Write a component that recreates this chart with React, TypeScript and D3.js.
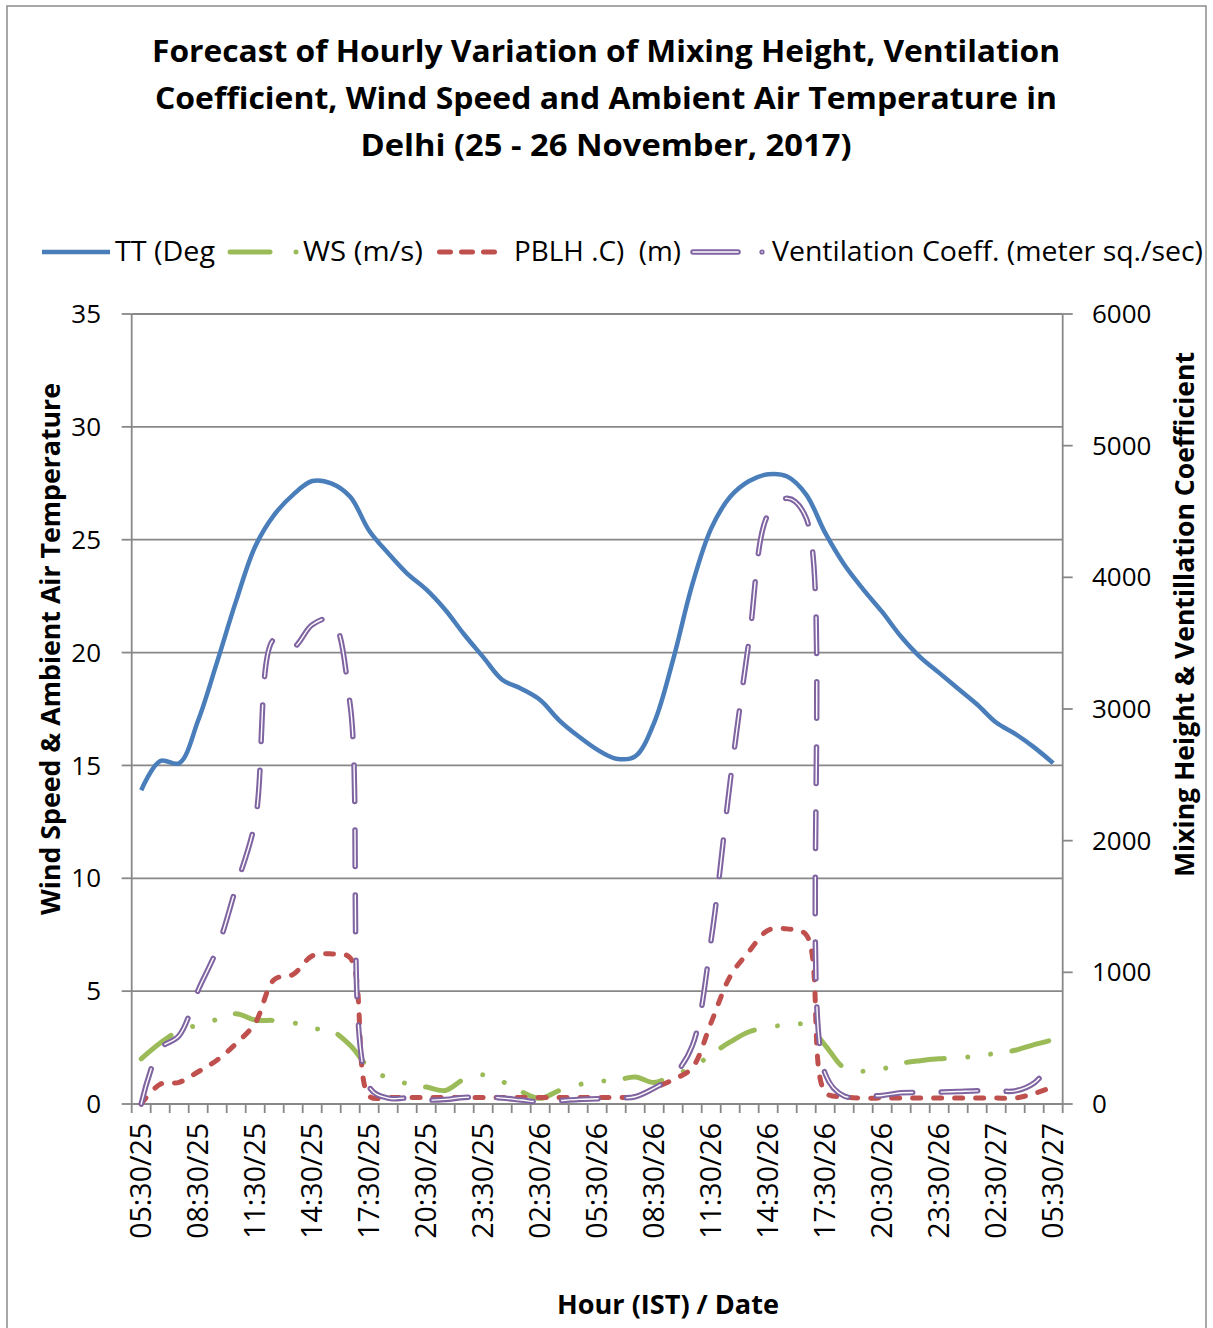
import React from 'react';
import * as d3 from 'd3';

const HOURS = [
  '05:30/25','06:30/25','07:30/25','08:30/25','09:30/25','10:30/25','11:30/25','12:30/25',
  '13:30/25','14:30/25','15:30/25','16:30/25','17:30/25','18:30/25','19:30/25','20:30/25',
  '21:30/25','22:30/25','23:30/25','00:30/26','01:30/26','02:30/26','03:30/26','04:30/26',
  '05:30/26','06:30/26','07:30/26','08:30/26','09:30/26','10:30/26','11:30/26','12:30/26',
  '13:30/26','14:30/26','15:30/26','16:30/26','17:30/26','18:30/26','19:30/26','20:30/26',
  '21:30/26','22:30/26','23:30/26','00:30/27','01:30/27','02:30/27','03:30/27','04:30/27',
  '05:30/27'
];
const LABELLED = [
  '05:30/25','08:30/25','11:30/25','14:30/25','17:30/25','20:30/25','23:30/25','02:30/26',
  '05:30/26','08:30/26','11:30/26','14:30/26','17:30/26','20:30/26','23:30/26','02:30/27','05:30/27'
];

// TT (deg C) - left axis
const TT = [13.9, 15.2, 15.1, 17.0, 19.6, 22.3, 24.7, 26.1, 27.0, 27.6, 27.5, 26.9, 25.4,
  24.4, 23.5, 22.8, 21.9, 20.8, 19.8, 18.8, 18.4, 17.9, 17.0, 16.3, 15.7, 15.3, 15.4,
  16.9, 19.7, 23.0, 25.5, 26.9, 27.6, 27.9, 27.8, 27.0, 25.3, 23.9, 22.8, 21.8, 20.7,
  19.8, 19.1, 18.4, 17.7, 16.9, 16.4, 15.8, 15.1];
// WS (m/s) - left axis
const WS = [2.0, 2.7, 3.25, 3.5, 3.75, 4.0, 3.72, 3.7, 3.6, 3.35, 3.25, 2.6, 1.6, 1.15,
  0.9, 0.75, 0.6, 1.1, 1.3, 1.0, 0.55, 0.25, 0.6, 0.85, 1.0, 1.05, 1.2, 0.95, 1.3, 1.6,
  2.2, 2.75, 3.2, 3.4, 3.5, 3.5, 2.6, 1.6, 1.45, 1.55, 1.8, 1.92, 2.0, 2.05, 2.12, 2.25,
  2.38, 2.63, 2.85];
// PBLH (m) - right axis
const PBLH = [0, 150, 165, 245, 335, 460, 615, 945, 985, 1125, 1140, 1110, 60, 50, 50,
  50, 50, 50, 50, 50, 50, 50, 50, 50, 50, 50, 55, 120, 185, 275, 620, 970, 1160, 1320,
  1330, 1285, 90, 55, 45, 45, 45, 45, 45, 45, 45, 45, 45, 80, 130];
// Ventilation coefficient (m2/s) - right axis
const VC = [0, 420, 520, 866, 1180, 1650, 2150, 3530, 3470, 3640, 3680, 3030, 130, 45,
  45, 30, 35, 50, 55, 45, 30, 15, 25, 35, 40, 45, 55, 120, 215, 440, 1250, 2450, 3530,
  4480, 4600, 4450, 230, 60, 60, 65, 85, 88, 90, 95, 100, 100, 100, 160, 330];

const LEFT_TICKS = [0, 5, 10, 15, 20, 25, 30, 35];
const RIGHT_TICKS = [0, 1000, 2000, 3000, 4000, 5000, 6000];

const TITLE = [
  'Forecast of Hourly Variation of Mixing Height, Ventilation',
  'Coefficient, Wind Speed and Ambient Air Temperature in',
  'Delhi (25 - 26 November, 2017)'
];

const FONT = "'Open Sans', 'Noto Sans', sans-serif";
const GRID = '#888888';
const C_TT = '#4a7ebb';
const C_WS = '#9bbb59';
const C_PB = '#c0504d';
const C_VC = '#8064a2';

export default function App() {
  const W = 1213, H = 1328;
  const left = 131.7, right = 1062.7, top = 314, bottom = 1104;
  const x = d3.scaleBand<string>().domain(HOURS).range([left, right]).padding(0);
  const bw = x.bandwidth();
  const xc = (i: number) => (x(HOURS[i]) as number) + bw / 2;
  const yL = d3.scaleLinear().domain([0, 35]).range([bottom, top]);
  const yR = d3.scaleLinear().domain([0, 6000]).range([bottom, top]);
  const curve = d3.curveCatmullRom.alpha(0.5);
  const lineL = d3.line<number>().x((_, i) => xc(i)).y(d => yL(d)).curve(curve);
  const lineR = d3.line<number>().x((_, i) => xc(i)).y(d => yR(d)).curve(curve);

  const boundaries = d3.range(HOURS.length + 1).map(k => left + k * bw);

  const titleWidths = [908, 902, 491];
  const titleBase = [62, 109, 156];

  const vcDash = '36.5 28.5';

  return (
    <svg width={W} height={H} style={{ position: 'absolute', left: 0, top: 0, background: '#fff' }}
      fontFamily={FONT}>
      <rect x={0} y={0} width={W} height={H} fill="#fff" />
      <rect x={7} y={6} width={1199} height={1340} fill="none" stroke="#8c8c8c" strokeWidth={1.5} />

      {TITLE.map((t, i) => (
        <text key={i} x={606} y={titleBase[i]} textAnchor="middle" fontSize={29.5} fontWeight="bold"
          textLength={titleWidths[i]} lengthAdjust="spacingAndGlyphs" fill="#000">{t}</text>
      ))}

      {/* legend */}
      <g>
        <line x1={42} x2={110} y1={252} y2={252} stroke={C_TT} strokeWidth={4.5} />
        <text x={115} y={261} fontSize={26.5} textLength={100} lengthAdjust="spacingAndGlyphs">TT (Deg</text>
        <line x1={230} x2={270} y1={252} y2={252} stroke={C_WS} strokeWidth={5} strokeLinecap="round" />
        <circle cx={296} cy={252} r={2.5} fill={C_WS} />
        <text x={303} y={261} fontSize={26.5} textLength={120} lengthAdjust="spacingAndGlyphs">WS (m/s)</text>
        <line x1={439.5} x2={494.5} y1={252} y2={252} stroke={C_PB} strokeWidth={5} strokeLinecap="round"
          strokeDasharray="11 11" />
        <text x={514} y={261} fontSize={26.5} textLength={167} lengthAdjust="spacingAndGlyphs"
          style={{ whiteSpace: 'pre' }}>{'PBLH .C)  (m)'}</text>
        <line x1={693} x2={738} y1={252} y2={252} stroke={C_VC} strokeWidth={5.5} strokeLinecap="round" />
        <line x1={693} x2={738} y1={252} y2={252} stroke="#fff" strokeWidth={1.5} strokeLinecap="round" />
        <circle cx={762} cy={252} r={2.6} fill={C_VC} />
        <circle cx={762} cy={252} r={0.8} fill="#fff" />
        <text x={772} y={261} fontSize={26.5} textLength={431} lengthAdjust="spacingAndGlyphs">Ventilation Coeff. (meter sq./sec)</text>
      </g>

      {/* gridlines */}
      {LEFT_TICKS.filter(t => t > 0).map(t => (
        <line key={'g' + t} x1={left} x2={right} y1={yL(t)} y2={yL(t)} stroke={GRID} strokeWidth={1.8} />
      ))}
      {/* axes */}
      <line x1={left} x2={left} y1={top} y2={bottom} stroke={GRID} strokeWidth={1.8} />
      <line x1={right} x2={right} y1={top} y2={bottom} stroke={GRID} strokeWidth={1.8} />
      <line x1={left} x2={right} y1={bottom} y2={bottom} stroke={GRID} strokeWidth={1.8} />
      {LEFT_TICKS.map(t => (
        <g key={'l' + t}>
          <line x1={left - 10} x2={left} y1={yL(t)} y2={yL(t)} stroke={GRID} strokeWidth={1.8} />
          <text x={101} y={yL(t)} dy="0.35em" textAnchor="end" fontSize={26}>{t}</text>
        </g>
      ))}
      {RIGHT_TICKS.map(t => (
        <g key={'r' + t}>
          <line x1={right} x2={right + 10} y1={yR(t)} y2={yR(t)} stroke={GRID} strokeWidth={1.8} />
          <text x={1092} y={yR(t)} dy="0.35em" textAnchor="start" fontSize={26}>{t}</text>
        </g>
      ))}
      {boundaries.map((b, k) => (
        <line key={'b' + k} x1={b} x2={b} y1={bottom} y2={bottom + 9} stroke={GRID} strokeWidth={1.8} />
      ))}
      {LABELLED.map(l => {
        const cx = (x(l) as number) + bw / 2;
        return (
          <text key={l} transform={`translate(${cx},${1123}) rotate(-90)`} textAnchor="end" dy="0.36em"
            fontSize={28.5}>{l}</text>
        );
      })}

      {/* series */}
      <path d={lineL(TT) || ''} fill="none" stroke={C_TT} strokeWidth={4.5} strokeLinejoin="round" />
      <path d={lineL(WS) || ''} fill="none" stroke={C_WS} strokeWidth={5} strokeLinecap="round"
        strokeDasharray="38 23.5 0.01 23 0.01 21.5" />
      <path d={lineR(PBLH) || ''} fill="none" stroke={C_PB} strokeWidth={5} strokeLinecap="round"
        strokeDasharray="8 13" />
      <path d={lineR(VC) || ''} fill="none" stroke={C_VC} strokeWidth={5.5} strokeLinecap="round"
        strokeDasharray={vcDash} />
      <path d={lineR(VC) || ''} fill="none" stroke="#fff" strokeWidth={1.4} strokeLinecap="round"
        strokeDasharray={vcDash} />

      {/* axis titles */}
      <text transform={`translate(60,649) rotate(-90)`} textAnchor="middle" fontSize={26.5} fontWeight="bold"
        textLength={532} lengthAdjust="spacingAndGlyphs">Wind Speed &amp; Ambient Air Temperature</text>
      <text transform={`translate(1194,614.5) rotate(-90)`} textAnchor="middle" fontSize={26.5} fontWeight="bold"
        textLength={525} lengthAdjust="spacingAndGlyphs">Mixing Height &amp; Ventillation Coefficient</text>
      <text x={668} y={1314} textAnchor="middle" fontSize={26.5} fontWeight="bold"
        textLength={222} lengthAdjust="spacingAndGlyphs">Hour (IST) / Date</text>
    </svg>
  );
}
